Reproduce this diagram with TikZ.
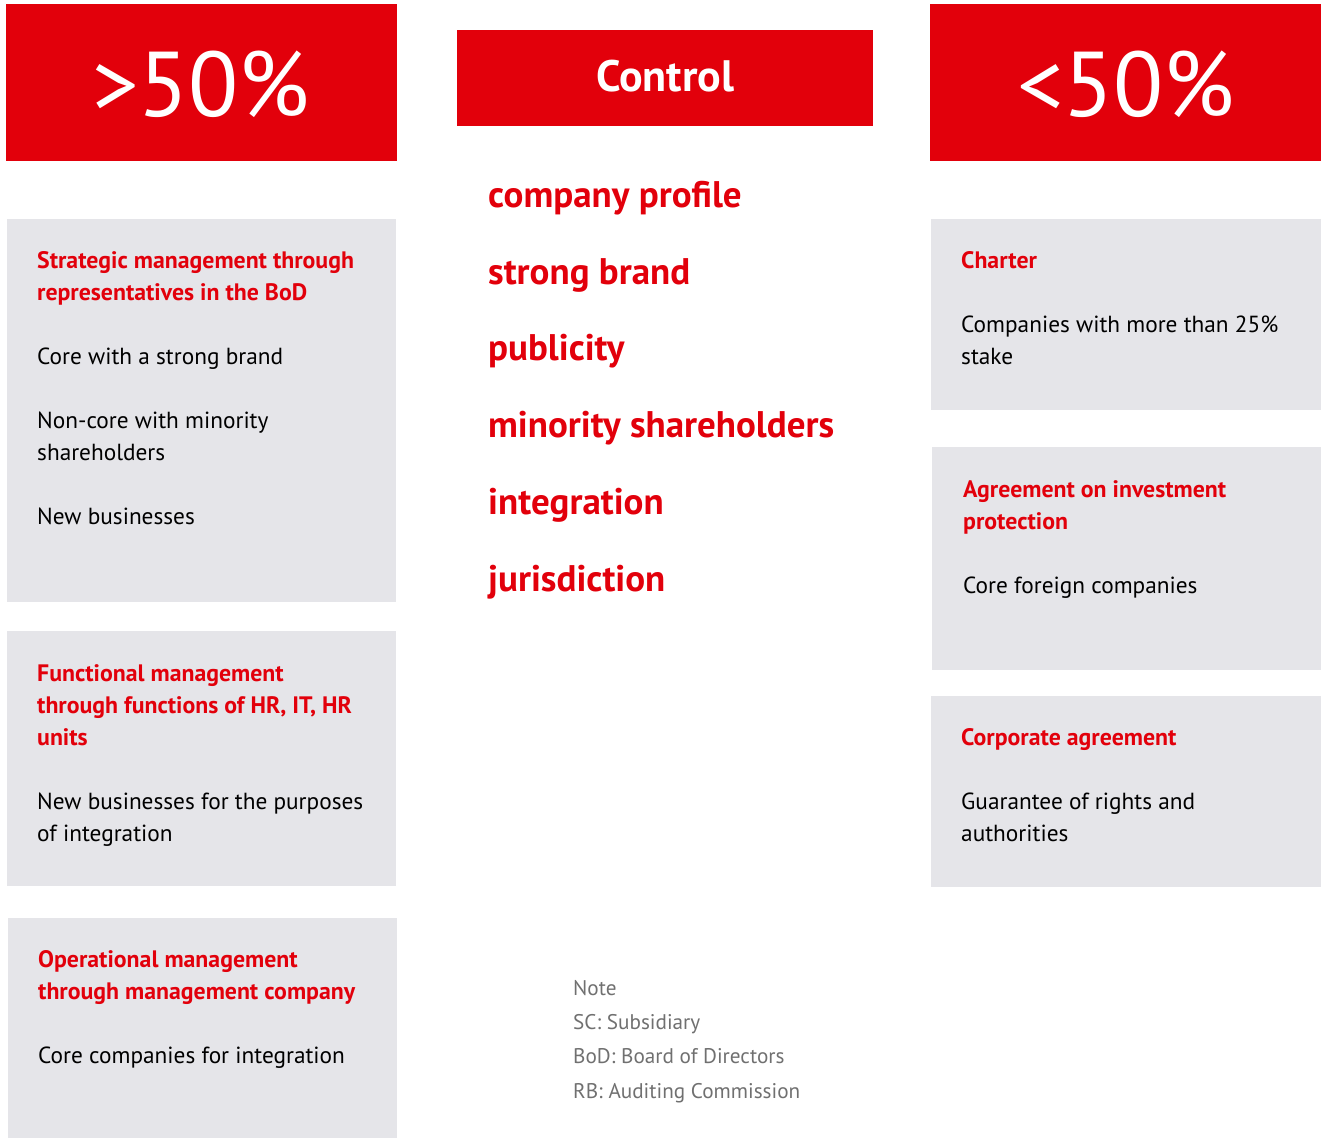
\documentclass[tikz,border=0pt]{standalone}
\usepackage{fontspec}
\setmainfont{PT Sans}
\definecolor{brandred}{HTML}{E2000B}
\definecolor{boxgray}{HTML}{E5E5E9}
\definecolor{notegray}{HTML}{707070}
\begin{document}
\begin{tikzpicture}[x=1pt,y=-1pt,
  redbox/.style={fill=brandred,draw=none},
  graybox/.style={fill=boxgray,draw=none},
  bigpct/.style={anchor=base,text=white,inner sep=0pt,font=\fontsize{92}{92}\selectfont},
  ctrl/.style={anchor=base,text=white,inner sep=0pt,font=\fontsize{44}{44}\selectfont\bfseries},
  head/.style={anchor=base west,text=brandred,inner sep=0pt,font=\fontsize{23.8}{32}\selectfont\bfseries},
  body/.style={anchor=base west,text=black,inner sep=0pt,font=\fontsize{23.3}{32}\selectfont},
  key/.style={anchor=base west,text=brandred,inner sep=0pt,font=\fontsize{37}{40}\selectfont\bfseries},
  note/.style={anchor=base west,text=notegray,inner sep=0pt,font=\fontsize{21.2}{24}\selectfont}]
\useasboundingbox (0,0) rectangle (1324,1138);
% header boxes
\fill[redbox] (6,4) rectangle (397,161);
\fill[redbox] (457,30) rectangle (873,126);
\fill[redbox] (930,4) rectangle (1321,161);
\node[bigpct] (gt) at (201,116) {>50\%};
\node[ctrl] (ctl) at (665,91) {Control};
\node[bigpct] (lt) at (1126,116) {<50\%};
% left boxes
\fill[graybox] (7,219) rectangle (396,602);
\fill[graybox] (7,631) rectangle (396,886);
\fill[graybox] (8,918) rectangle (397,1138);
% right boxes
\fill[graybox] (931,219) rectangle (1321,410);
\fill[graybox] (932,447) rectangle (1321,670);
\fill[graybox] (931,696) rectangle (1321,887);
% left box 1
\node[head] (l1a) at (37,268) {Strategic management through};
\node[head] (l1b) at (37,300) {representatives in the BoD};
\node[body] (l1c) at (37,364) {Core with a strong brand};
\node[body] (l1d) at (37,428) {Non-core with minority};
\node[body] (l1e) at (37,460) {shareholders};
\node[body] (l1f) at (37,524) {New businesses};
% left box 2
\node[head] (l2a) at (37,681) {Functional management};
\node[head] (l2b) at (37,713) {through functions of HR, IT, HR};
\node[head] (l2c) at (37,745) {units};
\node[body] (l2d) at (37,809) {New businesses for the purposes};
\node[body] (l2e) at (37,841) {of integration};
% left box 3
\node[head] (l3a) at (38,967) {Operational management};
\node[head] (l3b) at (38,999) {through management company};
\node[body] (l3c) at (38,1063) {Core companies for integration};
% right box 1
\node[head] (r1a) at (961,268) {Charter};
\node[body] (r1b) at (961,332) {Companies with more than 25\%};
\node[body] (r1c) at (961,364) {stake};
% right box 2
\node[head] (r2a) at (963,497) {Agreement on investment};
\node[head] (r2b) at (963,529) {protection};
\node[body] (r2c) at (963,593) {Core foreign companies};
% right box 3
\node[head] (r3a) at (961,745) {Corporate agreement};
\node[body] (r3b) at (961,809) {Guarantee of rights and};
\node[body] (r3c) at (961,841) {authorities};
% center list
\node[key] (k1) at (488,207) {company profile};
\node[key] (k2) at (488,284) {strong brand};
\node[key] (k3) at (488,360) {publicity};
\node[key] (k4) at (488,437) {minority shareholders};
\node[key] (k5) at (488,514) {integration};
\node[key] (k6) at (488,591) {jurisdiction};
% note
\node[note] (n1) at (573,995) {Note};
\node[note] (n2) at (573,1029) {SC: Subsidiary};
\node[note] (n3) at (573,1063) {BoD: Board of Directors};
\node[note] (n4) at (573,1098) {RB: Auditing Commission};
\end{tikzpicture}
\end{document}
